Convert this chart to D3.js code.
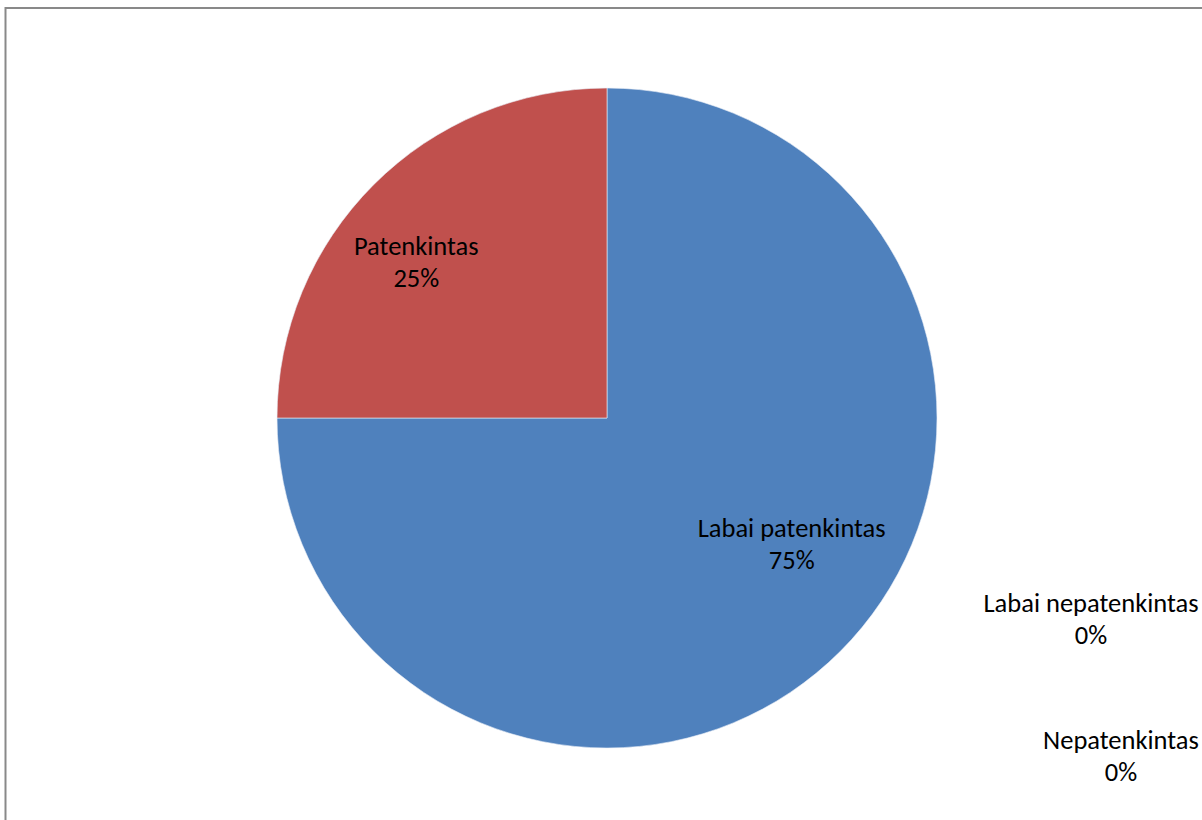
<!DOCTYPE html>
<html><head><meta charset="utf-8">
<script src="https://cdn.jsdelivr.net/npm/d3@7/dist/d3.min.js"></script>
<style>
html,body{margin:0;padding:0;background:#fff;overflow:hidden;}
svg{display:block;}
</style></head>
<body>
<svg id="chart" width="1202" height="820"></svg>
<script>
const categories = ["Labai patenkintas", "Patenkintas", "Nepatenkintas", "Labai nepatenkintas"];
const values = [75, 25, 0, 0];
const colors = ["#4F81BD", "#C0504D", "#9BBB59", "#8064A2"];

const svg = d3.select("#chart");

// chart frame
svg.append("rect").attr("x", 5.5).attr("y", 8).attr("width", 1210).attr("height", 830)
  .attr("fill", "#fff").attr("stroke", "#898989").attr("stroke-width", 2);

const cx = 607, cy = 418, R = 330;
const g = svg.append("g").attr("transform", `translate(${cx},${cy})`);

const data = categories.map((c, i) => ({cat: c, val: values[i], color: colors[i]}));
const pie = d3.pie().value(d => d.val).sort(null);
const arcs = pie(data);
const arc = d3.arc().innerRadius(0).outerRadius(R);

g.selectAll("path").data(arcs.filter(a => a.data.val > 0)).join("path")
  .attr("d", arc).attr("fill", d => d.data.color)
  .attr("stroke", "#e9eef6").attr("stroke-width", 0.6);

const total = d3.sum(values);
const fmt = v => Math.round(v / total * 100) + "%";
const fontSize = 26.5, lineH = 32;

// label placement: non-zero slices inside along mid-angle, zero slices stacked outside right
const nonZeroFactor = [{rf: 0.68, adj: [26, -33]}, {rf: 0.74, adj: [-18, 17]}];
let zi = 0;
const zeroSlots = [[1091, 619], [1121, 756]];
const zeroOrder = [3, 2];
arcs.forEach((a, i) => {
  let x, y;
  if (a.data.val > 0) {
    const mid = (a.startAngle + a.endAngle) / 2;
    const f = nonZeroFactor[i];
    x = cx + Math.sin(mid) * R * f.rf + f.adj[0];
    y = cy - Math.cos(mid) * R * f.rf + f.adj[1];
  } else {
    [x, y] = zeroSlots[zeroOrder.indexOf(i)];
  }
  const t = svg.append("text").attr("text-anchor", "middle")
    .attr("font-family", "Carlito, Calibri, Lato, 'Open Sans', sans-serif")
    .attr("font-size", fontSize).attr("fill", "#000");
  t.append("tspan").attr("x", x).attr("y", y - lineH / 2 + 9).text(a.data.cat);
  t.append("tspan").attr("x", x).attr("y", y + lineH / 2 + 9).text(fmt(a.data.val));
});
</script>
</body></html>
